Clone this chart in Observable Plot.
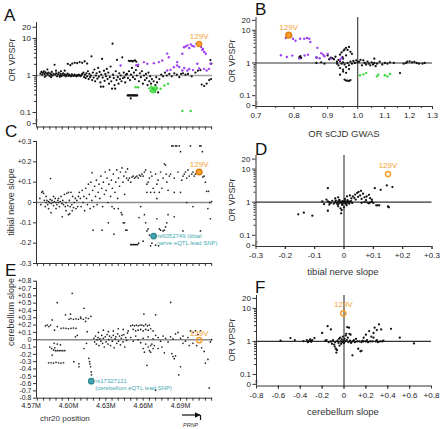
<!DOCTYPE html>
<html><head><meta charset="utf-8">
<script src="https://cdn.jsdelivr.net/npm/d3@7"></script>
<script src="https://cdn.jsdelivr.net/npm/@observablehq/plot@0.6"></script>
<style>
body{margin:0;background:#fff;}
#wrap{position:relative;width:440px;height:429px;overflow:hidden;background:#fff;}
#wrap svg{position:absolute;left:0;top:0;}
</style></head><body><div id="wrap"></div>
<script>
// ---------------- DATA ----------------
// Panel A: [chr20 position (kb), OR VPSPr]
const aBlack = [[4577.5,1.12],[4578.3,1.25],[4579,1.05],[4579.6,1.18],[4580.2,1.3],[4580.9,1.1],[4581.5,1.22],[4582.1,1.0],[4582.8,1.15],[4583.4,1.08],[4584,1.2],[4584.7,0.97],[4585.3,1.12],[4586,1.05],[4586.6,1.25],[4587.3,1.0],[4588,1.1],[4588.8,1.95],[4589.4,1.05],[4590.1,1.15],[4590.8,0.95],[4591.5,1.08],[4592.2,1.2],[4592.9,1.0],[4593.6,1.1],[4594.3,0.96],[4595,1.05],[4595.7,1.15],[4596.4,1.0],[4597.1,1.08],[4597.8,0.95],[4598.5,1.02],[4599.2,1.12],[4599.9,0.97],[4600.6,1.05],[4601.3,1.0],[4602,0.95],[4602.7,1.08],[4603.4,1.0],[4604.1,0.97],[4604.8,1.05],[4605.5,1.0],[4606.2,0.95],[4606.9,1.02],[4607.6,0.98],[4608.3,1.05],[4609,1.0],[4609.7,0.96],[4610.4,1.03],[4611,1.1],
[4597,1.35],[4599.5,2.05],[4601.5,1.9],[4603,2.1],[4605,2.2],[4607,2.15],[4609,2.3],[4611,2.2],[4613,2.4],[4615,2.1],[4583,1.45],[4590,1.35],[4594,1.3],[4581,0.92],[4586,0.9],[4593,0.92],
[4612,1.2],[4612.6,0.9],[4613.2,1.05],[4613.8,0.85],[4614.4,1.15],[4615,0.95],[4615.6,1.3],[4616.2,0.8],[4616.8,1.1],[4617.4,0.9],[4618,1.0],[4618.5,3.3],[4619,0.75],[4619.6,1.2],[4620.2,0.88],[4620.8,1.45],[4621.4,0.7],[4622,1.0],[4622.6,1.15],[4623.2,0.82],[4623.8,1.6],[4624.4,0.93],[4625,1.25],[4625.6,0.65],[4626,0.5],[4626.4,1.05],[4627,2.8],[4627.5,0.88],[4628,0.5],[4628.5,1.35],[4629,0.72],[4629.6,1.1],[4630.2,0.95],[4630.8,1.5],[4631.4,0.8],[4632,1.2],[4632.6,0.6],[4633.2,0.9],[4633.8,1.75],[4634.4,0.7],[4635,0.44],[4635.4,7.2],[4635.8,1.05],[4636.4,0.85],[4637,0.55],[4637.5,0.44],[4638,1.3],[4638.6,0.75],[4639,2.65],[4639.6,0.9],[4640.2,0.6],[4640.8,1.15],[4641.4,0.8],[4642,1.0],[4642.6,0.7],[4643.2,3.1],[4643.8,0.85],[4644.4,1.2],[4645,0.9],[4645.6,0.65],[4646.2,1.05],
[4648.5,2.5],[4649.5,2.45],[4650.5,2.5],[4651.5,2.4],[4652.5,2.5],[4653.5,2.55],[4654.5,2.35],
[4647.5,0.29],[4648.2,0.29],[4648.9,0.29],[4649.6,0.29],[4650.3,0.29],[4651,0.29],[4651.7,0.29],[4652.4,0.29],[4653.1,0.29],[4653.8,0.29],[4654.5,0.29],[4655.2,0.29],[4650,0.24],
[4647,1.1],[4647.8,0.85],[4648.6,1.3],[4649.4,0.75],[4650.2,1.05],[4651,1.6],[4651.8,0.9],[4652.6,1.2],[4653.4,0.8],[4654.2,1.4],[4655,1.0],[4655.8,1.8],[4656.6,0.7],[4657.4,1.15],[4658.2,0.9],[4659,1.3],[4659.8,0.6],[4660.6,1.0],[4661.4,0.75],[4662.2,1.1],
[4662.8,0.85],[4663.5,0.55],[4664.2,1.2],[4664.9,0.7],[4665.6,0.95],[4666.3,0.6],[4667,0.8],[4667.7,0.45],[4668.4,0.7],[4669.1,0.38],[4669.8,0.55],[4670.5,0.9],[4671.2,0.65],[4672,0.35],[4673,0.8],[4674.5,1.05],[4676,0.95],[4677.5,1.2],[4679,1.0],
[4681,1.1],[4683,0.95],[4685,1.15],[4687,1.05],[4689,0.9],[4690.5,1.1],[4692,1.15],[4694,1.05],[4696,1.1],[4699,0.95],[4702,1.2],[4704,1.35],[4706,1.4],[4707,0.57],[4709,0.52],[4711,0.6],[4713,0.75],[4714.5,0.8],[4714,2.6],[4714.8,2.1]];
const aPurple = [[4641.9,1.86],[4654.5,1.9],[4656,1.95],[4660.6,2.3],[4663.3,2.07],[4668.6,2.15],[4672.6,2.3],[4675.3,2.55],[4679.3,3.9],[4680.6,3.1],[4679.3,1.36],[4682,1.42],[4684.7,1.68],[4687.3,2.3],[4687.3,1.86],[4691.5,3.85],[4691.5,1.36],[4692.8,5.8],[4694.2,6.1],[4695.5,6.5],[4695.5,1.36],[4698.2,6.9],[4700.9,6.1],[4702.8,7.2],[4703.5,2.07],[4707.6,4.9],[4708.9,1.51],[4709,4.3],[4710.3,3.85],[4711,1.36],[4712.9,1.51],[4714.2,2.07],[4689,1.7],[4693,1.6],[4697,1.5],[4700,1.4],[4705,1.55],[4697,5.5],[4699.5,6.3],[4706.5,5.9],[4708,5.2]];
const aGreen = [[4654,0.48],[4656,0.48],[4665,0.45],[4666,0.38],[4666.5,0.5],[4667,0.42],[4667.5,0.35],[4668,0.47],[4668.5,0.4],[4669,0.44],[4669.5,0.36],[4670,0.5],[4670.5,0.42],[4671,0.46],[4674,0.44],[4677,0.54],[4680,0.6],[4691.5,0.11],[4698.2,0.11]];

// Panel C: [position (kb), tibial nerve slope]
const cPoints = [[4577,0.02],[4577.8,-0.01],[4578.5,0.05],[4579.2,0.055],[4580,0.045],[4580.6,0.01],[4581.3,-0.02],[4582,0.0],[4582.7,0.01],[4583.3,-0.01],[4584,0.005],[4584.7,0.0],[4585.3,0.015],[4585.6,0.118],[4586,-0.005],[4586.7,0.01],[4587.4,0.0],[4588,-0.015],[4588.7,0.005],[4589.4,0.02],[4590,0.0],[4590.7,-0.01],[4591.4,0.01],[4592,0.0],[4592.7,-0.02],[4593.4,0.005],[4594,0.03],[4594.7,-0.005],[4595.4,0.01],[4596,-0.01],[4596.7,0.04],[4597.4,-0.02],[4598,0.0],[4598.7,0.045],[4599.4,-0.015],[4600,0.05],[4600.7,0.01],[4601.4,-0.02],[4602,0.05],[4602.7,-0.01],[4603.4,0.03],[4604,-0.025],[4604.7,0.0],[4605.4,0.02],[4606,-0.03],[4606.7,0.01],[4607.4,-0.02],[4608,0.03],
[4584,-0.03],[4586,-0.05],[4590,-0.03],[4595,-0.07],[4598,-0.04],[4600,-0.06],[4601,-0.055],[4603,-0.04],[4582,0.03],[4588,0.03],[4592,0.02],
[4608.7,0.05],[4609.5,0.02],[4610.2,-0.02],[4611,0.06],[4611.7,0.0],[4612.4,0.03],[4613,-0.04],[4613.8,0.07],[4614.5,0.02],[4615.2,-0.01],[4616,0.09],[4616.7,0.04],[4617.4,-0.03],[4618,0.1],[4618.8,0.01],[4619,0.146],[4619.5,0.06],[4620.2,-0.02],[4621,0.08],[4621.7,0.03],[4622.4,0.11],[4623,-0.01],[4623.8,0.05],[4624.5,0.09],[4625.2,0.02],[4626,0.13],[4626.7,0.07],[4627.4,-0.02],[4628,0.1],[4628.8,0.04],[4629.5,0.15],[4630.2,0.06],[4631,0.12],[4631.7,0.0],[4632.4,0.09],[4633,0.16],[4633.8,0.03],[4634.5,0.11],[4635.2,0.07],[4636,0.14],[4636.7,-0.03],[4637.4,0.05],[4638,0.1],[4638.8,0.16],[4639.5,0.02],[4640.2,0.12],[4641,0.08],[4641.7,0.15],[4642.4,-0.05],[4643,0.17],[4643.8,0.1],[4644.5,0.13],[4645.2,0.04],[4646,0.15],[4646.7,0.12],[4647.4,0.165],[4648,0.11],
[4619.7,-0.136],[4627,-0.136],[4636.5,-0.156],[4632,-0.1],[4643,-0.06],[4644,-0.1],[4645,-0.1],[4646,-0.136],[4647,-0.136],[4640,-0.03],[4635,-0.02],
[4650,-0.207],[4650.8,-0.207],[4651.6,-0.207],[4652.4,-0.207],[4653.2,-0.207],[4654,-0.207],[4654.8,-0.207],[4655.6,-0.207],[4656.4,-0.2],
[4649,0.12],[4650,0.1],[4651,0.125],[4652,0.13],[4653,0.12],[4654,0.125],[4655,0.13],[4656,0.12],[4657,0.135],[4658,0.13],[4659,0.14],[4660,0.13],[4661,0.15],[4662,0.16],[4663,0.09],[4664,0.1],[4665,0.12],[4666,0.15],[4667,0.13],[4668,0.07],[4669,0.05],[4670,0.14],[4671,0.09],[4672,0.11],[4673,0.05],[4674,0.15],[4675,0.07],[4676,0.12],[4677,0.19],[4678,0.184],[4678.5,0.14],[4679,0.1],[4680,0.06],[4681,0.13],[4682,0.14],[4683,0.278],[4684,0.278],[4685,0.12],[4686,0.278],[4687,0.278],[4688,0.15],[4689,0.278],[4690,0.25],[4691,0.11],[4692,0.13],[4693,0.14],[4694,0.15],[4695,0.12],[4696,0.16],[4697,0.13],[4698,0.278],[4699,0.14],[4700,0.15],[4701,0.13],[4702,0.14],[4703,0.15],[4705.5,0.278],[4706.5,0.278],[4707.6,0.25],[4708,0.126],[4709,0.13],[4710,0.1],[4711,0.055],[4712.5,0.055],[4713.5,0.0],[4712,-0.03],[4714,-0.08],[4715,0.005],
[4663,0.05],[4666,0.05],[4671,0.02],[4685,0.05],[4690,0.05],[4695,0.0],
[4656.7,-0.074],[4658,-0.02],[4660,-0.19],[4661,-0.06],[4662,-0.1],[4663,-0.14],[4664,-0.13],[4665,-0.16],[4666,-0.213],[4667,-0.2],[4670,-0.21],[4671,-0.08],[4672.4,-0.213],[4673,-0.13],[4674,-0.136],[4676,-0.14],[4677,-0.136],[4678,-0.12],[4679,-0.1],[4680,-0.06],[4685,-0.07],[4692,-0.14],[4700,-0.02],[4706,-0.14]];

// Panel E: [position (kb), cerebellum slope]
const ePoints = [[4581.5,0.19],[4582.9,0.2],[4584.2,0.18],[4585.6,0.2],[4586.9,0.27],[4588.8,0.13],[4591,0.506],[4591,0.18],
[4585,-0.1],[4586.5,-0.12],[4588,-0.14],[4589,-0.11],[4589.6,-0.15],[4591,-0.15],[4592.5,-0.15],[4594,-0.15],[4595.5,-0.15],[4597,-0.15],[4588.5,-0.05],[4591,-0.06],[4593.5,-0.07],
[4584,-0.315],[4586,-0.315],[4588,-0.32],[4590,-0.31],[4592,-0.315],[4594,-0.32],[4596,-0.315],[4586.9,-0.21],
[4594,0.155],[4596,0.16],[4598,0.155],[4600,0.15],[4602,0.155],[4604,0.16],[4606,0.155],
[4600.5,0.28],[4602,0.29],[4604,0.28],[4606,0.285],[4608,0.28],[4610,0.29],[4612,0.28],[4614,0.3],[4616,0.29],[4618,0.32],
[4597.6,0.34],[4601.6,0.35],[4603,0.634],[4612.4,0.43],[4609.7,0.31],[4613.7,0.25],[4604.3,-0.3],[4608.4,-0.33],[4608.4,-0.37],[4605.6,0.04],[4607,0.06],
[4616.4,-0.255],[4616.9,-0.3],[4617.2,-0.333],[4617.7,-0.37],[4618.3,-0.44],[4618.5,-0.48],[4612.4,-0.12],[4614.5,-0.05],[4615,0.11],
[4620.5,0.02],[4621,-0.03],[4621.7,0.05],[4622.4,-0.06],[4623,0.0],[4623.8,0.03],[4624.5,-0.08],[4625.2,0.01],[4626,-0.02],[4626.7,0.06],[4627.4,-0.05],[4628,0.02],[4628.8,-0.1],[4629.5,0.04],[4630.2,-0.03],[4631,0.07],[4631.7,-0.06],[4632.4,0.0],[4633,0.05],[4633.8,-0.08],[4634.5,0.03],[4635.2,-0.02],[4636,0.06],[4636.7,-0.11],[4637.4,0.01],[4638,0.04],[4638.8,-0.05],[4639.5,0.08],[4640.2,-0.02],[4641,0.05],[4641.7,-0.07],[4642.4,0.02],[4643,0.06],[4643.8,-0.03],[4644.5,0.07],[4645.2,-0.1],[4646,0.03],[4646.7,-0.01],[4647.4,0.09],
[4624,0.1],[4628,0.13],[4632,0.11],[4636,0.12],[4640,0.15],[4644,0.14],[4648,0.12],
[4650,0.19],[4651.5,0.2],[4653,0.19],[4654.5,0.2],[4656,0.19],[4657.5,0.2],[4659,0.2],[4660.5,0.19],[4662,0.21],[4663.5,0.19],[4665,0.2],
[4652,0.14],[4654,0.12],[4656,0.13],[4658,0.14],[4660,0.12],[4662,0.14],[4664,0.13],[4666,0.15],[4668,0.12],
[4670,0.34],[4682.1,0.51],[4660.6,0.35],
[4650,0.03],[4652,-0.02],[4654,0.05],[4656,0.0],[4658,-0.04],[4660,0.02],[4662,-0.06],[4664,0.04],[4666,-0.08],[4668,0.01],[4670,0.06],[4672,0.03],[4674,-0.02],[4676,0.05],[4678,0.02],[4680,-0.03],[4682,0.04],[4684,0.01],[4686,0.08],[4688,0.1],[4690,0.02],[4692,0.05],[4694,-0.02],[4696,0.03],[4698,0.12],[4700,0.1],[4702,0.12],[4704,0.07],[4706,0.12],
[4660,-0.12],[4661,-0.17],[4663,-0.35],[4664,-0.1],[4665,-0.15],[4666,-0.17],[4667,-0.06],[4668,-0.12],[4669,-0.08],[4670,-0.69],[4672,-0.12],[4675,-0.1],[4677,-0.18],[4683,-0.19],[4684,-0.23],[4685,-0.26],[4686,-0.22],[4688.6,-0.48],[4690,-0.37],[4692,-0.05],[4697,-0.08],[4700,-0.05],[4703,-0.08],[4707,-0.11],[4709,-0.16],[4710,-0.32],[4712,-0.27],[4713,-0.66],[4714,-0.03],[4715,0.0]];

// Panel B: [OR sCJD GWAS, OR VPSPr]
const bBlack = [[0.815,1.5],[0.818,1.62],[0.82,1.42],[0.866,1.45],[0.9,1.7],[0.905,1.3],[0.91,1.45],[0.915,1.4],[0.92,1.3],[0.925,1.55],[0.93,1.1],[0.935,1.25],[0.94,1.8],[0.945,2.1],[0.948,1.5],[0.952,2.4],[0.955,2.6],[0.96,2.9],[0.965,2.5],[0.97,3.1],[0.975,2.2],[0.98,1.9],[0.96,1.7],[0.95,1.35],[0.94,1.15],[0.93,0.95],[0.935,0.85],[0.94,0.7],[0.945,0.95],[0.95,1.05],[0.955,0.9],[0.96,0.75],[0.965,1.0],[0.97,0.85],[0.975,1.1],[0.98,0.95],[0.985,1.15],[0.99,1.0],[0.995,1.2],[1.0,1.05],[0.94,0.44],[0.95,0.63],[0.955,0.31],[0.96,0.29],[0.965,0.29],[0.97,0.28],[0.975,0.3],[0.95,0.55],[0.96,0.5],[0.97,0.65],
[1.005,1.1],[1.01,1.25],[1.015,0.85],[1.02,1.2],[1.025,1.0],[1.03,0.9],[1.035,1.1],[1.04,0.95],[1.045,0.85],[1.05,1.05],[1.055,0.9],[1.06,1.0],[1.065,0.8],[1.07,0.95],[1.08,1.1],[1.09,0.9],[1.1,1.0],[1.11,0.95],[1.12,1.05],[1.135,1.0],[1.16,0.49],[1.175,0.95],[1.185,1.0],[1.19,1.1],[1.2,1.12],[1.21,1.05],[1.22,1.08],[1.23,1.0],[1.24,0.95],[1.255,0.95],[1.265,1.0],[1.06,1.35],[0.865,1.0],[0.88,1.05],[0.89,0.95]];
const bPurple = [[0.777,5.8],[0.787,6.4],[0.797,5.5],[0.804,4.8],[0.817,5.5],[0.829,5.5],[0.837,5.8],[0.844,5.5],[0.847,4.4],[0.868,2.9],[0.764,1.72],[0.78,1.53],[0.795,1.68],[0.815,1.36],[0.84,1.8],[0.865,1.5],[0.88,2.0],[0.886,1.8],[0.89,1.6],[0.9,1.9],[0.91,1.36],[0.94,1.26],[0.945,1.42],[0.792,6.8],[0.83,1.7],[0.875,1.4]];
const bGreen = [[1.008,0.42],[1.03,0.49],[1.07,0.39],[1.075,0.44],[1.1,0.42],[1.11,0.39],[1.12,0.46],[1.02,0.45]];

// Panel D: [tibial nerve slope, OR VPSPr]
const dPoints = [[-0.03,1.0],[-0.025,0.95],[-0.02,1.05],[-0.018,0.9],[-0.015,1.1],[-0.012,0.98],[-0.01,1.02],[-0.008,0.92],[-0.005,1.08],[-0.003,0.96],[0.0,1.0],[0.002,1.12],[0.004,0.94],[0.006,1.04],[0.008,0.88],[0.01,1.0],[0.012,1.15],[0.014,0.97],[0.016,1.06],[0.018,0.9],[0.02,1.02],[-0.022,0.85],[-0.016,1.18],[-0.006,0.82],[0.003,1.25],[0.009,0.8],[-0.028,1.12],[0.024,1.08],[0.028,0.95],[-0.035,0.9],[-0.04,1.1],[-0.045,0.95],[-0.05,1.0],[-0.055,1.05],
[0.025,1.3],[0.03,1.5],[0.035,1.35],[0.038,1.7],[0.04,1.2],[0.045,1.9],[0.048,1.45],[0.05,2.05],[0.055,1.6],[0.058,2.2],[0.06,1.25],[0.065,1.8],[0.07,1.4],[0.075,1.15],[0.077,1.48],[0.085,1.67],[0.089,1.32],[0.095,1.2],[0.105,2.65],[0.125,2.36],[0.146,3.2],[0.165,2.85],
[0.06,0.95],[0.07,1.0],[0.08,0.97],[0.09,0.98],[0.1,0.95],[0.11,0.8],[0.115,0.8],[0.12,0.8],[0.095,1.05],[0.085,0.92],[0.15,0.74],[0.153,0.7],
[-0.156,0.43],[-0.137,0.48],[-0.108,0.39],[-0.074,1.05],[-0.068,0.87],[-0.055,0.55],[-0.055,2.65],[-0.06,1.2],[-0.05,0.85],[-0.01,0.46],[-0.008,0.58],[-0.012,0.65],[-0.02,0.75],[0.0,0.7],[-0.03,1.3],[-0.02,1.4],[0.01,1.5],[0.02,1.6]];

// Panel F: [cerebellum slope, OR VPSPr]
const fPoints = [[-0.58,1.05],[-0.49,1.26],[-0.45,1.1],[-0.37,1.02],[-0.34,1.1],[-0.32,1.02],[-0.31,1.15],[-0.3,1.05],[-0.29,1.1],[-0.27,1.26],[-0.2,1.8],[-0.15,2.9],[-0.12,2.3],[-0.33,0.95],[-0.3,0.97],
[-0.17,1.05],[-0.16,1.1],[-0.14,0.95],[-0.12,1.0],[-0.11,0.85],[-0.1,1.1],[-0.09,0.8],[-0.085,0.7],[-0.08,0.95],[-0.075,0.6],[-0.07,0.46],[-0.065,0.55],[-0.06,1.05],[-0.05,0.9],[-0.045,1.2],[-0.04,0.75],[-0.035,1.3],[-0.03,1.0],[-0.025,0.85],[-0.02,1.15],[-0.015,0.95],[-0.01,1.4],[-0.005,1.05],[0.0,0.9],[0.005,1.2],[0.01,1.0],[0.015,1.5],[0.02,1.7],[0.025,1.1],[0.03,2.7],[0.035,1.3],[0.04,0.95],[0.046,2.6],[0.05,1.7],[0.055,1.05],[0.06,1.6],[0.065,0.9],
[0.077,0.38],[0.08,1.0],[0.09,1.1],[0.1,0.95],[0.11,1.2],[0.12,1.0],[0.13,0.6],[0.15,0.5],[0.16,0.52],[0.14,1.0],[0.16,0.95],[0.17,1.05],[0.18,1.0],[0.2,1.0],[0.21,1.1],[0.22,0.95],[0.23,2.06],[0.24,1.0],[0.25,1.4],[0.26,1.0],[0.27,1.3],[0.28,2.6],[0.29,1.0],[0.3,1.1],[0.31,0.95],[0.32,3.3],[0.33,1.0],[0.34,2.3],[0.35,1.0],[0.36,1.05],[0.43,2.4],[0.51,1.3],[0.64,0.87],[0.3,2.2],[0.27,1.8],[0.18,1.3],[0.2,1.6]];

// Highlighted SNPs
const snp129V = {pos: 4705, orVPSPr: 7.1, orGWAS: 0.785, tibial: 0.15, cerebellum: -0.006};
const tibialLead = {pos: 4668.4, tibial: -0.165, label: "rs6052749 (tibial\nnerve eQTL lead SNP)"};
const cerebLead = {pos: 4618.3, cerebellum: -0.567, label: "rs17327121\n(cerebellum eQTL lead SNP)"};

// Tick labels
const logTickValues = [0, 0.1, 1, 10, 20];          // "0" drawn at the axis break
const logTickLabels = ["0", "0.1", "1", "10", "20"];
const logMinorValues = [0.2,0.3,0.4,0.5,0.6,0.7,0.8,0.9,2,3,4,5,6,7,8,9];
const posTickValues = [4570, 4600, 4630, 4660, 4690];
const posTickLabels = ["4.57M", "4.60M", "4.63M", "4.66M", "4.69M"];
const gwasTicks = [0.7, 0.8, 0.9, 1.0, 1.1, 1.2, 1.3];
const gwasTickLabels = ["0.7", "0.8", "0.9", "1.0", "1.1", "1.2", "1.3"];
const gwasMinor = [0.75, 0.85, 0.95, 1.05, 1.15, 1.25];
const tibialTicks = [-0.3, -0.2, -0.1, 0, 0.1, 0.2, 0.3];
const cerebTicks = [-0.8, -0.6, -0.4, -0.2, 0, 0.2, 0.4, 0.6, 0.8];

// ---------------- DRAWING ----------------
const W = 440, H = 429;
const FONT = "'Liberation Sans', Arial, Helvetica, sans-serif";
const ORANGE = "#f5a030", PURPLE = "#a040f2", GREEN = "#3ad83a", TEAL = "#45a9b3", AX = "#333";
const BREAK = -1.3;
const L = Math.log10;
const ly = v => v === 0 ? BREAK : L(v);
const logVals = logTickValues.map(ly);
const logFmt = d => logTickLabels[logVals.findIndex(v => Math.abs(v - d) < 1e-9)];
const logMinor = logMinorValues.map(L);
const gwasVals = gwasTicks.map(L);
const gwasFmt = d => gwasTickLabels[gwasVals.findIndex(v => Math.abs(v - d) < 1e-9)];
const signed = d => { const r = Math.round(d * 100) / 100; return r === 0 ? "0" : (r > 0 ? "+" : "") + r.toFixed(1); };
const posFmt = d => posTickLabels[posTickValues.indexOf(d)];
const steps = (a, b, s) => d3.range(Math.round(a / s), Math.round(b / s) + 1).map(i => +(i * s).toFixed(4));
const blank = () => "";

const wrap = document.getElementById("wrap");
const base = {width: W, height: H, style: {background: "transparent", overflow: "visible", fontFamily: FONT, color: "#222"}};
function put(p) { wrap.appendChild(p); }

function logY() {
  return [
    Plot.axisY({ticks: logVals, tickFormat: logFmt, tickSize: 3.5, tickPadding: 2, fontSize: 8, label: null, stroke: AX}),
    Plot.axisY({ticks: logMinor, tickFormat: blank, tickSize: 2, label: null, stroke: AX}),
    Plot.text([BREAK + 0.13], {y: d => d, frameAnchor: "left", text: () => "≈", rotate: 90, fontSize: 7, fill: "#555"})
  ];
}

// ---- Panel A
const A = {x0: 4574.3, x1: 4715.7, y0: -1.39, y1: 1.43};
put(Plot.plot({...base,
  marginLeft: 36, marginRight: W - 212, marginTop: 22, marginBottom: H - 126.5,
  x: {domain: [A.x0, A.x1]}, y: {domain: [A.y0, A.y1]},
  marks: [
    Plot.ruleY([0], {stroke: "#a3a3a3", strokeWidth: 1.6}),
    Plot.ruleX([A.x0], {stroke: AX}), Plot.ruleY([A.y0], {stroke: AX}),
    ...logY(),
    Plot.axisX({ticks: steps(4575, 4715, 5), tickFormat: blank, tickSize: 3, label: null, stroke: AX}),
    Plot.dot(aBlack, {x: d => d[0], y: d => ly(d[1]), r: 1.1, fill: "#111"}),
    Plot.dot(aGreen, {x: d => d[0], y: d => ly(d[1]), r: 1.2, fill: GREEN}),
    Plot.dot(aPurple, {x: d => d[0], y: d => ly(d[1]), r: 1.2, fill: PURPLE}),
    Plot.dot([snp129V], {x: "pos", y: d => ly(d.orVPSPr), r: 2.8, fill: ORANGE, stroke: "#e27d0c", strokeWidth: 1}),
    Plot.text([snp129V], {x: "pos", y: d => ly(d.orVPSPr), text: () => "129V", dy: -8, fill: ORANGE, fontSize: 8})
  ]}));

// ---- Panel C
put(Plot.plot({...base,
  marginLeft: 36, marginRight: W - 212, marginTop: 141, marginBottom: H - 263,
  x: {domain: [A.x0, A.x1]}, y: {domain: [-0.3, 0.3]},
  marks: [
    Plot.ruleY([0], {stroke: "#8a8a8a", strokeWidth: 1.4}),
    Plot.ruleX([A.x0], {stroke: AX}), Plot.ruleY([-0.3], {stroke: AX}),
    Plot.axisY({ticks: steps(-0.3, 0.3, 0.1), tickFormat: signed, tickSize: 3, tickPadding: 2, fontSize: 7, label: null, stroke: AX}),
    Plot.axisX({ticks: steps(4575, 4715, 5), tickFormat: blank, tickSize: 3, label: null, stroke: AX}),
    Plot.dot(cPoints, {x: d => d[0], y: d => d[1], r: 0.85, fill: "#222"}),
    Plot.dot([tibialLead], {x: "pos", y: "tibial", r: 2.6, fill: TEAL, stroke: "#2d8a94"}),
    Plot.text([tibialLead], {x: "pos", y: "tibial", text: "label", textAnchor: "start", dx: 3.5, dy: 3, fontSize: 6, lineHeight: 1.15, fill: TEAL}),
    Plot.dot([snp129V], {x: "pos", y: "tibial", r: 2.8, fill: ORANGE, stroke: "#e27d0c"}),
    Plot.text([snp129V], {x: "pos", y: "tibial", text: () => "129V", dy: -8, fill: ORANGE, fontSize: 8})
  ]}));

// ---- Panel E
put(Plot.plot({...base,
  marginLeft: 36, marginRight: W - 212, marginTop: 280.7, marginBottom: H - 397.7,
  x: {domain: [A.x0, A.x1]}, y: {domain: [-0.8, 0.8]},
  marks: [
    Plot.ruleY([0], {stroke: "#8a8a8a", strokeWidth: 1.4}),
    Plot.ruleX([A.x0], {stroke: AX}), Plot.ruleY([-0.8], {stroke: AX}),
    Plot.axisY({ticks: steps(-0.8, 0.8, 0.1), tickFormat: signed, tickSize: 3, tickPadding: 2, fontSize: 7, label: null, stroke: AX}),
    Plot.axisX({ticks: steps(4575, 4715, 5), tickFormat: blank, tickSize: 3, label: null, stroke: AX}),
    Plot.axisX({ticks: posTickValues, tickFormat: posFmt, tickSize: 0, tickPadding: 5, fontSize: 7, label: null}),
    Plot.dot(ePoints, {x: d => d[0], y: d => d[1], r: 0.85, fill: "#222"}),
    Plot.dot([cerebLead], {x: "pos", y: "cerebellum", r: 2.6, fill: TEAL, stroke: "#2d8a94"}),
    Plot.text([cerebLead], {x: "pos", y: "cerebellum", text: "label", textAnchor: "start", dx: 4, dy: 3, fontSize: 6, lineHeight: 1.15, fill: TEAL}),
    Plot.dot([snp129V], {x: "pos", y: "cerebellum", r: 2.6, fill: "none", stroke: ORANGE, strokeWidth: 1.5}),
    Plot.text([snp129V], {x: "pos", y: "cerebellum", text: () => "129V", dy: -7, fill: ORANGE, fontSize: 8})
  ]}));

// ---- Panel B (x drawn on a log10 axis)
const B = {x0: L(0.7), x1: L(1.3)};
put(Plot.plot({...base,
  marginLeft: 255.5, marginRight: W - 432, marginTop: 17, marginBottom: H - 106,
  x: {domain: [B.x0, B.x1]}, y: {domain: [-1.33, 1.39]},
  marks: [
    Plot.ruleY([0], {stroke: AX, strokeWidth: 1.1}), Plot.ruleX([0], {stroke: AX, strokeWidth: 1.1}),
    Plot.ruleX([B.x0], {stroke: AX}), Plot.ruleY([-1.33], {stroke: AX}),
    ...logY(),
    Plot.axisX({ticks: gwasVals, tickFormat: gwasFmt, tickSize: 3, tickPadding: 3, fontSize: 8, label: null, stroke: AX}),
    Plot.axisX({ticks: gwasMinor.map(L), tickFormat: blank, tickSize: 2, label: null, stroke: AX}),
    Plot.dot(bBlack, {x: d => L(d[0]), y: d => ly(d[1]), r: 1.15, fill: "#111"}),
    Plot.dot(bGreen, {x: d => L(d[0]), y: d => ly(d[1]), r: 1.2, fill: GREEN}),
    Plot.dot(bPurple, {x: d => L(d[0]), y: d => ly(d[1]), r: 1.2, fill: PURPLE}),
    Plot.dot([snp129V], {x: d => L(d.orGWAS), y: d => ly(d.orVPSPr), r: 2.8, fill: ORANGE, stroke: "#e27d0c"}),
    Plot.text([snp129V], {x: d => L(d.orGWAS), y: d => ly(d.orVPSPr), text: () => "129V", dy: -8, fill: ORANGE, fontSize: 8})
  ]}));

// ---- Panel D
put(Plot.plot({...base,
  marginLeft: 255.5, marginRight: W - 431.5, marginTop: 155, marginBottom: H - 246,
  x: {domain: [-0.3, 0.3]}, y: {domain: [-1.34, 1.41]},
  marks: [
    Plot.ruleY([0], {stroke: AX, strokeWidth: 1.1}), Plot.ruleX([0], {stroke: AX, strokeWidth: 1.1}),
    Plot.ruleX([-0.3], {stroke: AX}), Plot.ruleY([-1.34], {stroke: AX}),
    ...logY(),
    Plot.axisX({ticks: tibialTicks, tickFormat: signed, tickSize: 3, tickPadding: 3, fontSize: 8, label: null, stroke: AX}),
    Plot.axisX({ticks: steps(-0.25, 0.25, 0.1), tickFormat: blank, tickSize: 3, label: null, stroke: AX}),
    Plot.dot(dPoints, {x: d => d[0], y: d => ly(d[1]), r: 1.15, fill: "#111"}),
    Plot.dot([snp129V], {x: "tibial", y: d => ly(d.orVPSPr), r: 2.6, fill: "none", stroke: ORANGE, strokeWidth: 1.5}),
    Plot.text([snp129V], {x: "tibial", y: d => ly(d.orVPSPr), text: () => "129V", dy: -9, fill: ORANGE, fontSize: 8})
  ]}));

// ---- Panel F
put(Plot.plot({...base,
  marginLeft: 256, marginRight: W - 431, marginTop: 295, marginBottom: H - 385.5,
  x: {domain: [-0.8, 0.8]}, y: {domain: [-1.35, 1.39]},
  marks: [
    Plot.ruleY([0], {stroke: AX, strokeWidth: 1.1}), Plot.ruleX([0], {stroke: AX, strokeWidth: 1.1}),
    Plot.ruleX([-0.8], {stroke: AX}), Plot.ruleY([-1.35], {stroke: AX}),
    ...logY(),
    Plot.axisX({ticks: cerebTicks, tickFormat: signed, tickSize: 3, tickPadding: 3, fontSize: 8, label: null, stroke: AX}),
    Plot.axisX({ticks: steps(-0.7, 0.7, 0.2), tickFormat: blank, tickSize: 3, label: null, stroke: AX}),
    Plot.dot(fPoints, {x: d => d[0], y: d => ly(d[1]), r: 1.15, fill: "#111"}),
    Plot.dot([snp129V], {x: "cerebellum", y: d => ly(d.orVPSPr), r: 2.6, fill: "none", stroke: ORANGE, strokeWidth: 1.5}),
    Plot.text([snp129V], {x: "cerebellum", y: d => ly(d.orVPSPr), text: () => "129V", dy: -9, fill: ORANGE, fontSize: 8})
  ]}));

// ---- Labels overlay
const svg = d3.select(wrap).append("svg").attr("width", W).attr("height", H)
  .style("font-family", FONT).style("overflow", "visible");
const letters = [["A",4,21],["B",255,15],["C",5,137],["D",255,155],["E",5,276],["F",255,293]];
svg.selectAll("text.letter").data(letters).join("text").attr("class","letter")
  .attr("x", d => d[1]).attr("y", d => d[2]).attr("font-size", 17).attr("fill", "#111").text(d => d[0]);
const yTitles = [["OR VPSPr",15,60],["tibial nerve slope",14,202],["cerebellum slope",14,312],["OR VPSPr",235,61],["OR VPSPr",235,200],["OR VPSPr",235,340]];
svg.selectAll("text.yt").data(yTitles).join("text").attr("class","yt")
  .attr("transform", d => `translate(${d[1]},${d[2]}) rotate(-90)`).attr("text-anchor","middle")
  .attr("font-size", 9).attr("fill", "#333").text(d => d[0]);
const xTitles = [["OR sCJD GWAS",344,136.5],["tibial nerve slope",343,275],["cerebellum slope",343,415]];
svg.selectAll("text.xt").data(xTitles).join("text").attr("class","xt")
  .attr("x", d => d[1]).attr("y", d => d[2]).attr("text-anchor","middle")
  .attr("font-size", 9.5).attr("fill", "#333").text(d => d[0]);
svg.append("text").attr("x", 40).attr("y", 421).attr("font-size", 8).attr("fill", "#333").text("chr20 position");
svg.append("defs").append("marker").attr("id","ah").attr("viewBox","0 0 10 10").attr("refX",9).attr("refY",5)
  .attr("markerWidth",5).attr("markerHeight",5).attr("orient","auto")
  .append("path").attr("d","M0,0L10,5L0,10z").attr("fill","#111");
svg.append("path").attr("d","M182,415H200").attr("stroke","#111").attr("stroke-width",1.2).attr("marker-end","url(#ah)");
svg.append("path").attr("d","M200.5,415V420").attr("stroke","#111").attr("stroke-width",1.2);
svg.append("text").attr("x", 183).attr("y", 427).attr("font-size", 5.5).attr("font-style","italic").attr("fill", "#333").text("PRNP");
</script></body></html>
